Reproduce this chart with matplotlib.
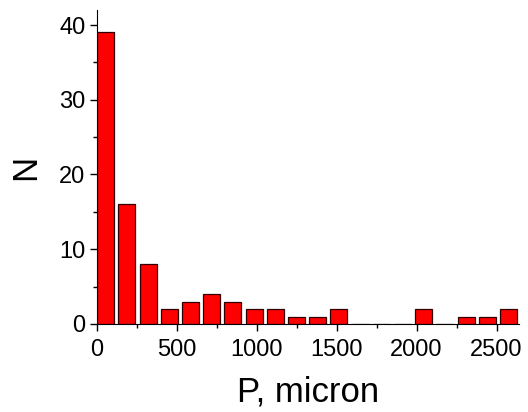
import numpy as np
import matplotlib.pyplot as plt
from matplotlib.ticker import MultipleLocator

plt.rcParams['font.family'] = ['Liberation Sans', 'DejaVu Sans']

# histogram of P (micron), 20 bins
bin_width = 132.5
counts = [39, 16, 8, 2, 3, 4, 3, 2, 2, 1, 1, 2, 0, 0, 0, 2, 0, 1, 1, 2]
bin_left = np.arange(len(counts)) * bin_width

fig = plt.figure(figsize=(5.28, 4.12), dpi=100)
ax = fig.add_axes([0.183, 0.2136, 0.8, 0.762])

ax.bar(bin_left + 0.03 * bin_width, counts, width=0.8 * bin_width, align='edge',
       color='#ff0000', edgecolor='#300000', linewidth=0.9)

ax.set_xlim(0, 2640)
ax.set_ylim(0, 42)
ax.xaxis.set_major_locator(MultipleLocator(500))
ax.xaxis.set_minor_locator(MultipleLocator(250))
ax.yaxis.set_major_locator(MultipleLocator(10))
ax.yaxis.set_minor_locator(MultipleLocator(5))
ax.tick_params(which='major', direction='out', length=5, width=1, labelsize=17)
ax.tick_params(axis='x', which='major', pad=6)
ax.tick_params(axis='y', which='major', pad=3)
ax.tick_params(which='minor', direction='out', length=3, width=1)

for s in ['top', 'right']:
    ax.spines[s].set_visible(False)

ax.set_xlabel('P, micron', fontsize=25, labelpad=10)
ax.set_ylabel('N', fontsize=25, labelpad=12)

fig.savefig('out.png', dpi=100)
